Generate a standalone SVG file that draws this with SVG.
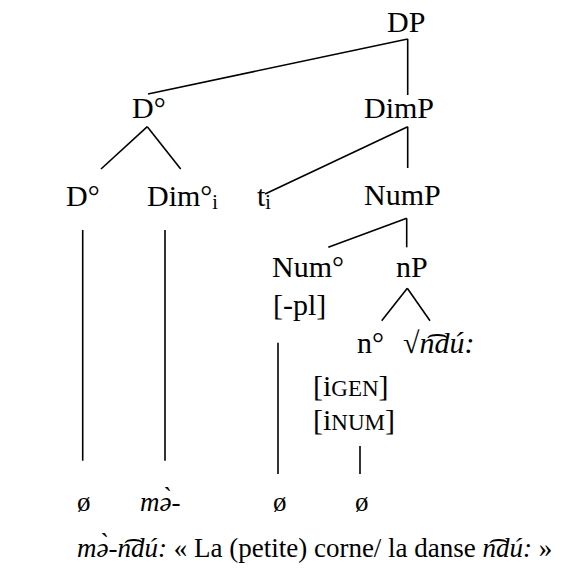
<svg xmlns="http://www.w3.org/2000/svg" width="565" height="583" viewBox="0 0 565 583">
<rect width="565" height="583" fill="#fff"/>
<g id="connectors" stroke="#000" stroke-width="1.6">
<line x1="407.7" y1="39" x2="148" y2="94"/>
<line x1="407.7" y1="39" x2="407.7" y2="95"/>
<line x1="147.3" y1="126.7" x2="101" y2="169"/>
<line x1="147.3" y1="126.7" x2="180.7" y2="169"/>
<line x1="407.7" y1="126.7" x2="265" y2="194"/>
<line x1="407.7" y1="126.7" x2="407.7" y2="168"/>
<line x1="406.7" y1="218.3" x2="328.3" y2="247.3"/>
<line x1="406.7" y1="218.3" x2="406.7" y2="247.3"/>
<line x1="407.3" y1="288.3" x2="381.7" y2="320.7"/>
<line x1="407.3" y1="288.3" x2="430" y2="320.7"/>
<line x1="82.7" y1="230" x2="82.7" y2="460.7"/>
<line x1="165" y1="230" x2="165" y2="460.7"/>
<line x1="278" y1="342.7" x2="278" y2="474"/>
<line x1="360" y1="446" x2="360" y2="474"/>
</g>
<g id="DP"><text x="387" y="32" font-size="30" font-family="Liberation Serif">DP</text></g>
<g id="D-top"><text x="132" y="118" font-size="30" font-family="Liberation Serif">D&#176;</text></g>
<g id="DimP"><text x="364" y="118" font-size="30" font-family="Liberation Serif">DimP</text></g>
<g id="D-head"><text x="66" y="206" font-size="30" font-family="Liberation Serif">D&#176;</text></g>
<g id="Dim-head"><text x="147" y="206" font-size="30" font-family="Liberation Serif">Dim&#176;<tspan font-size="20" dy="3">i</tspan></text></g>
<g id="trace"><text x="257" y="206" font-size="30" font-family="Liberation Serif">t<tspan font-size="20" dy="3">i</tspan></text></g>
<g id="NumP"><text x="364" y="205" font-size="30" font-family="Liberation Serif">NumP</text></g>
<g id="Num-head"><text x="272" y="277" font-size="30" font-family="Liberation Serif">Num&#176;</text><text x="273" y="315" font-size="30" font-family="Liberation Serif">[-pl]</text></g>
<g id="nP"><text x="396" y="277" font-size="30" font-family="Liberation Serif">nP</text></g>
<g id="n-head"><text x="357" y="353" font-size="30" font-family="Liberation Serif">n&#176;</text><text x="313" y="396" font-size="30" font-family="Liberation Serif">[i<tspan font-size="23">GEN</tspan>]</text><text x="313" y="430" font-size="30" font-family="Liberation Serif">[i<tspan font-size="23">NUM</tspan>]</text></g>
<g id="root"><text x="403" y="353" font-size="30" font-family="Liberation Serif">&#8730;<tspan font-style="italic">n&#865;d&#250;:</tspan></text></g>
<g id="exponents">
<text x="77" y="511" font-size="27" font-family="Liberation Serif">&#248;</text>
<text x="140" y="511" font-size="27" font-family="Liberation Serif" font-style="italic">m&#601;&#768;-</text>
<text x="273" y="511" font-size="27" font-family="Liberation Serif">&#248;</text>
<text x="355" y="511" font-size="27" font-family="Liberation Serif">&#248;</text>
</g>
<g id="gloss"><text x="77" y="557" font-size="27" font-family="Liberation Serif"><tspan font-style="italic">m&#601;&#768;-n&#865;d&#250;:</tspan> &#171; La (petite) corne/ la danse <tspan font-style="italic">n&#865;d&#250;:</tspan> &#187;</text></g>
</svg>
